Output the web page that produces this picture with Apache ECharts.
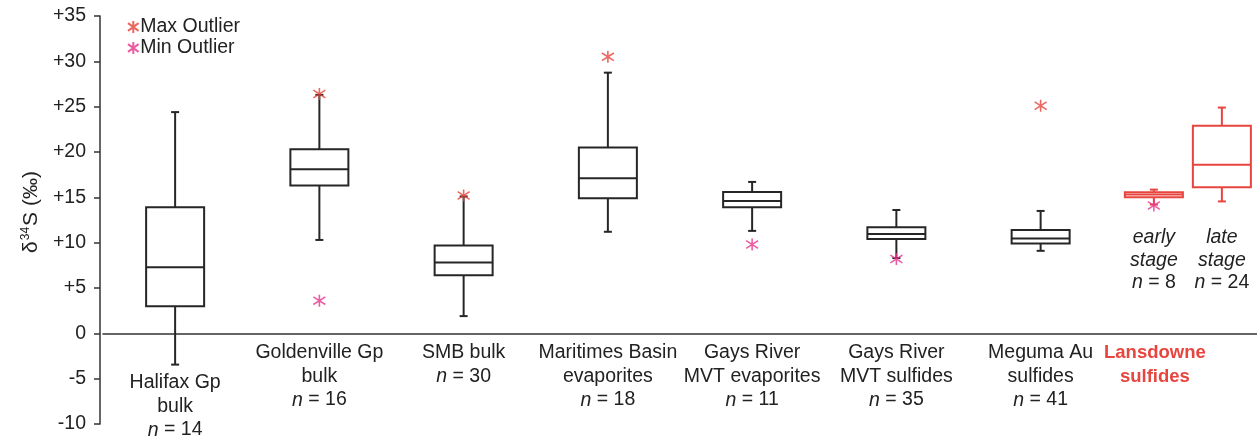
<!DOCTYPE html>
<html>
<head>
<meta charset="utf-8">
<script src="https://cdn.jsdelivr.net/npm/echarts@6/dist/echarts.min.js"></script>
<style>html,body{margin:0;padding:0;background:#fff;}#chart{width:1257px;height:438px;}</style>
</head>
<body>
<div id="chart"></div>
<script>
// ---------- data ----------
const categoryLines = [
  ['Halifax Gp', 'bulk'],
  ['Goldenville Gp', 'bulk'],
  ['SMB bulk'],
  ['Maritimes Basin', 'evaporites'],
  ['Gays River', 'MVT evaporites'],
  ['Gays River', 'MVT sulfides'],
  ['Meguma Au', 'sulfides'],
  ['Lansdowne', 'sulfides']
];
const sampleCounts = [14, 16, 30, 18, 11, 35, 41, null];

// boxes: 0..6 one per category, 7 = Lansdowne early stage, 8 = Lansdowne late stage
const boxCategory = [0, 1, 2, 3, 4, 5, 6, 7, 7];
const whiskerLow  = [-3.45, 10.3, 1.9, 11.2, 11.3, 8.3, 9.1, 14.2, 14.55];
const q1          = [3.0, 16.3, 6.4, 14.9, 13.9, 10.4, 9.9, 15.0, 16.1];
const median      = [7.3, 18.1, 7.8, 17.1, 14.6, 10.95, 10.45, 15.3, 18.6];
const q3          = [13.9, 20.3, 9.7, 20.5, 15.6, 11.7, 11.4, 15.55, 22.9];
const whiskerHigh = [24.4, 26.3, 15.1, 28.75, 16.7, 13.6, 13.5, 15.85, 24.9];

const maxOutlierBox   = [1, 2, 3, 6];
const maxOutlierValue = [26.4, 15.2, 30.5, 25.1];
const minOutlierBox   = [1, 4, 5, 7];
const minOutlierValue = [3.6, 9.8, 8.2, 14.1];

const stageBoxes  = [7, 8];
const stageNames  = ['early', 'late'];
const stageCounts = [8, 24];

const yTicks = { min: -10, max: 35, step: 5 };

// ---------- layout / style constants ----------
const FONT = "'Liberation Sans', Arial, sans-serif";
const FS = 19.5;
const BLACK = '#262626';
const RED = '#e8453f';
const MAXC = '#e8413a';
const MINC = '#e6358c';
const SUB_OFFSET = { 7: -31, 8: 37 };
const HALF_W = 29, CAP_W = 4;
const STAGE_LABEL_TOP = 11.8;
const ASTERISK = 'path://M5,0L5,10M0.6,1.8L9.4,8.2M0.6,8.2L9.4,1.8';
const CHART_H = 438, GRID_TOP = 16, GRID_BOTTOM = 14, GRID_LEFT = 103, Y_AXIS_SHIFT = 3;
const GRID_H = CHART_H - GRID_TOP - GRID_BOTTOM;
// move the category axis (line + labels) up to the zero level
const X_AXIS_OFFSET = -GRID_H * (0 - yTicks.min) / (yTicks.max - yTicks.min);

const boxData = boxCategory.map((c, i) => [c, whiskerLow[i], q1[i], median[i], q3[i], whiskerHigh[i]]);

function renderBox(params, api) {
  const i = params.dataIndex;
  const cat = api.value(0);
  const off = SUB_OFFSET[i] || 0;
  const y = v => api.coord([cat, v])[1];
  const x = api.coord([cat, api.value(3)])[0] + off;
  const yLo = y(api.value(1)), yQ1 = y(api.value(2)), yMed = y(api.value(3)), yQ3 = y(api.value(4)), yHi = y(api.value(5));
  const color = boxCategory[i] === 7 ? RED : BLACK;
  const st = { stroke: color, lineWidth: 2, fill: null };
  const children = [
    { type: 'line', shape: { x1: x, y1: yQ3, x2: x, y2: yHi }, style: st },
    { type: 'line', shape: { x1: x, y1: yQ1, x2: x, y2: yLo }, style: st },
    { type: 'line', shape: { x1: x - CAP_W, y1: yHi, x2: x + CAP_W, y2: yHi }, style: st },
    { type: 'line', shape: { x1: x - CAP_W, y1: yLo, x2: x + CAP_W, y2: yLo }, style: st },
    { type: 'rect', shape: { x: x - HALF_W, y: yQ3, width: HALF_W * 2, height: yQ1 - yQ3 }, style: { stroke: color, lineWidth: 2, fill: '#fff' } },
    { type: 'line', shape: { x1: x - HALF_W, y1: yMed, x2: x + HALF_W, y2: yMed }, style: st }
  ];
  const si = stageBoxes.indexOf(i);
  if (si >= 0) {
    children.push({
      type: 'text',
      x: x,
      y: y(STAGE_LABEL_TOP),
      style: {
        text: '{it|' + stageNames[si] + '}\n{it|stage}\n{it|n}{up| = ' + stageCounts[si] + '}',
        align: 'center',
        verticalAlign: 'top',
        fill: '#222',
        rich: {
          it: { fontFamily: FONT, fontSize: FS, fontStyle: 'italic', lineHeight: 22.5, fill: '#222', color: '#222' },
          up: { fontFamily: FONT, fontSize: FS, lineHeight: 22.5, fill: '#222', color: '#222' }
        }
      }
    });
  }
  return { type: 'group', children };
}

function outlierData(boxes, values) {
  return boxes.map((b, k) => ({ value: [boxCategory[b], values[k]], symbolOffset: [SUB_OFFSET[b] || 0, 0] }));
}

const chart = echarts.init(document.getElementById('chart'), null, { renderer: 'canvas' });
chart.setOption({
  animation: false,
  backgroundColor: '#fff',
  textStyle: { fontFamily: FONT },
  grid: { left: GRID_LEFT, right: 0, top: GRID_TOP, bottom: GRID_BOTTOM, containLabel: false, outerBoundsMode: 'none' },
  legend: {
    orient: 'vertical',
    left: 122,
    top: 12,
    itemWidth: 12,
    itemHeight: 12,
    itemGap: 1,
    textStyle: { fontFamily: FONT, fontSize: FS, color: '#222', padding: [0, 0, 0, -4] },
    data: [
      { name: 'Max Outlier', icon: ASTERISK },
      { name: 'Min Outlier', icon: ASTERISK }
    ]
  },
  xAxis: {
    type: 'category',
    position: 'bottom',
    offset: X_AXIS_OFFSET,
    data: categoryLines.map(l => l.join(' ')),
    axisLine: { onZero: false, lineStyle: { color: '#333', width: 1.5 } },
    axisTick: { show: false },
    axisLabel: {
      interval: 0,
      margin: 8,
      formatter: function (value, index) {
        const lines = categoryLines[index];
        if (sampleCounts[index] === null) {
          return lines.map(t => '{red|' + t + '}').join('\n');
        }
        let s = lines.map(t => '{t|' + t + '}').join('\n') + '\n{n|n}{t| = ' + sampleCounts[index] + '}';
        if (index === 0) s = '{gap|}\n' + s;
        return s;
      },
      rich: {
        t: { fontFamily: FONT, fontSize: FS, lineHeight: 23.5, color: '#222' },
        n: { fontFamily: FONT, fontSize: FS, lineHeight: 23.5, color: '#222', fontStyle: 'italic' },
        red: { fontFamily: FONT, fontSize: 18.5, lineHeight: 23.5, color: RED, fontWeight: 'bold', padding: [0, 60, 0, 0] },
        gap: { height: 30, lineHeight: 30 }
      }
    }
  },
  yAxis: {
    type: 'value',
    min: yTicks.min,
    max: yTicks.max,
    interval: yTicks.step,
    offset: Y_AXIS_SHIFT,
    splitLine: { show: false },
    axisLine: { show: true, lineStyle: { color: '#333', width: 1.5 } },
    axisTick: { show: true, inside: false, length: 6, lineStyle: { color: '#333', width: 1.5 } },
    axisLabel: {
      fontFamily: FONT, fontSize: FS, color: '#222', margin: 14,
      formatter: v => (v > 0 ? '+' + v : String(v))
    },
    name: '{d|δ}{s|34}{d|S (‰)}',
    nameLocation: 'middle',
    nameGap: 56,
    nameTextStyle: {
      padding: [0, 0, 0, 16],
      rich: {
        d: { fontFamily: FONT, fontSize: 21, color: '#222', lineHeight: 24 },
        s: { fontFamily: FONT, fontSize: 12, color: '#222', lineHeight: 24, verticalAlign: 'top', padding: [0, 1, 9, 1] }
      }
    }
  },
  series: [
    {
      type: 'custom',
      name: 'boxes',
      renderItem: renderBox,
      encode: { x: 0, y: [1, 2, 3, 4, 5] },
      data: boxData,
      z: 2
    },
    {
      type: 'scatter',
      name: 'Max Outlier',
      symbol: ASTERISK,
      symbolSize: 12,
      itemStyle: { color: 'rgba(0,0,0,0)', borderColor: MAXC, borderWidth: 1.6 },
      data: outlierData(maxOutlierBox, maxOutlierValue),
      z: 5
    },
    {
      type: 'scatter',
      name: 'Min Outlier',
      symbol: ASTERISK,
      symbolSize: 12,
      itemStyle: { color: 'rgba(0,0,0,0)', borderColor: MINC, borderWidth: 1.6 },
      data: outlierData(minOutlierBox, minOutlierValue),
      z: 5
    }
  ]
});
</script>
</body>
</html>
